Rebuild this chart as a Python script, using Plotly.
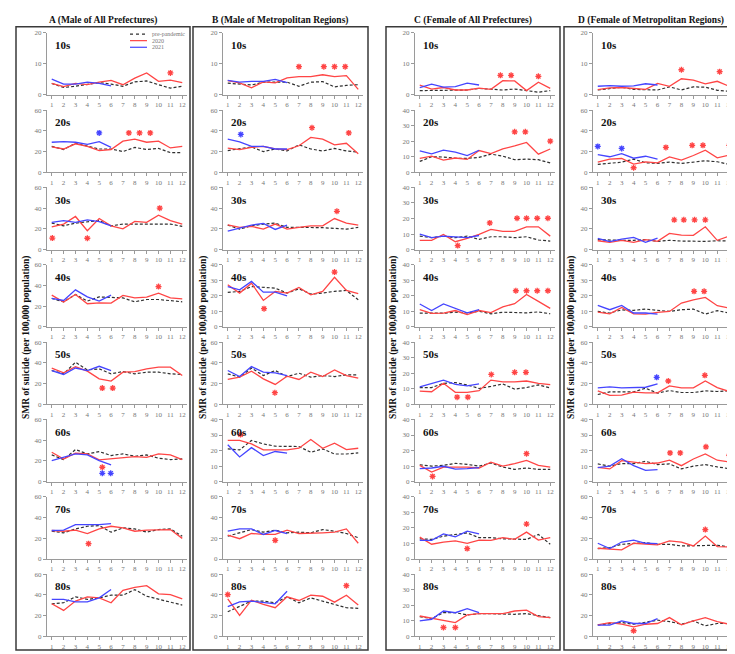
import plotly.graph_objects as go

# ---------------- data ----------------
months = list(range(1, 13))
months_2021 = list(range(1, 7))
age_groups = ["10s", "20s", "30s", "40s", "50s", "60s", "70s", "80s"]
col_titles = ["A (Male of All Prefectures)", "B (Male of Metropolitan Regions)",
              "C (Female of All Prefectures)", "D (Female of Metropolitan Regions)"]
y_title = "SMR of suicide (per 100,000 population)"
series_names = ["pre-pandemic", "2020", "2021"]

# Column A
A_pre = [
    [3.7, 2.4, 2.8, 3.5, 4.0, 3.5, 2.8, 4.2, 4.5, 3.3, 2.2, 2.8],
    [25, 22, 28, 25, 22.5, 22.5, 20, 24, 22, 23, 19, 19],
    [25.6, 23, 25.6, 27, 28, 23, 24.7, 24.7, 24.7, 24.7, 24.7, 22.4],
    [27.5, 24.3, 31.3, 25, 29, 28.8, 28, 24.3, 26.5, 26.5, 25.6, 24.3],
    [32.6, 29.4, 40.6, 33.2, 34.2, 29.4, 31.6, 29.4, 31, 31, 29.4, 28.8],
    [25.8, 21.3, 31, 26.8, 29, 25.2, 26.8, 24.5, 25.8, 22.6, 21.3, 21.9],
    [26.8, 25.3, 29, 31.6, 32.2, 25.9, 30, 29, 25.9, 28.4, 29, 22],
    [31.4, 32.4, 38.1, 35.6, 37.1, 39.7, 39.7, 45.1, 38.7, 35.6, 33, 30.2],
]
A_2020 = [
    [3.7, 2.7, 3.7, 3.3, 4.1, 4.7, 3.3, 5.4, 7.1, 4.4, 4.8, 4.0],
    [24.5, 22.5, 27.5, 25, 21, 22, 30, 32, 29, 30, 23.5, 25],
    [22, 24.7, 32, 18.3, 30, 23, 20, 27.2, 26.3, 33.3, 28, 24.7],
    [30.7, 24, 31.3, 22.4, 23.3, 23, 30.4, 28, 28.8, 32.6, 28, 27.2],
    [35, 30.4, 36.4, 32, 24.6, 22.4, 31, 31.6, 34.2, 35.8, 35.8, 27.8],
    [28.4, 21.9, 27.4, 26.8, 21, 21.9, 22.6, 24.2, 23.5, 26.8, 25.8, 21.3],
    [27.5, 26.8, 27.8, 24.6, 29, 31.6, 30, 26.8, 27.8, 28.4, 28.4, 19.9],
    [31.4, 25, 34, 38.1, 37.1, 32.4, 44.4, 47.3, 48.9, 41, 40.3, 36.2],
]
A_2021 = [
    [5.1, 3.5, 3.5, 4.1, 3.7, 2.9],
    [29, 29.5, 29, 27, 29.5, 24],
    [26.3, 27.9, 26.3, 28.8, 27, 23],
    [27.5, 25.6, 35.8, 29, 25, 30.7],
    [32.6, 28.8, 35, 32.6, 36.7, 32.6],
    [20.3, 23.5, 26.8, 25.8, 20.3, 16.1],
    [27.5, 27.8, 33.2, 33.2, 33.2, 34.1],
    [35.6, 35.6, 33.3, 33.3, 37.1, 45.1],
]
# significance asterisks: (age-group index, month, value)
A_star2020 = [(0, 11, 7.1), (1, 7.5, 38), (1, 8.4, 38), (1, 9.3, 38), (2, 1.05, 11.2), (2, 4, 11),
              (2, 10.1, 40), (3, 10, 39), (4, 5.26, 15.7), (4, 6.14, 15.7), (5, 5.26, 13.9), (6, 4.1, 14.8)]
A_star2021 = [(1, 5, 38), (5, 5.26, 8.1), (5, 5.97, 8.1)]
A_ymax = [20, 60, 60, 60, 60, 60, 60, 60]

# Column B
B_pre = [
    [3.8, 3.6, 3.2, 4.1, 4.1, 4.1, 2.8, 4.1, 4.3, 2.6, 3.1, 3.3],
    [21, 22.5, 24.5, 20, 22.5, 20.6, 26.5, 22.5, 20.6, 23, 20.6, 19.4],
    [23.7, 19.8, 23, 24.7, 25.6, 21.5, 21.5, 21.5, 21.2, 20.5, 19.8, 21.5],
    [22.2, 22.9, 26, 25.6, 25, 21.8, 24.6, 21.2, 21.8, 22.9, 23.5, 17.5],
    [29.4, 26.2, 35, 27.8, 32.6, 26.8, 30, 26.2, 27.8, 26.8, 28.4, 28.4],
    [21.1, 20.4, 26.5, 24.3, 22.8, 22.6, 22.6, 18.9, 21.1, 17.8, 17.8, 18.5],
    [22.1, 25.3, 28.4, 25.9, 27.8, 25.3, 25.9, 25.3, 28.4, 26.8, 24.6, 20.5],
    [23.8, 29.2, 34, 34, 32.4, 38.1, 32.4, 37.1, 34, 31.4, 27.6, 27],
]
B_2020 = [
    [4.6, 3.9, 2.3, 4.2, 3.9, 5.5, 5.9, 5.9, 6.5, 5.9, 6.2, 1.8],
    [23.4, 21.9, 24, 25, 22.5, 21.9, 25.6, 33.7, 32, 26.5, 28, 18],
    [24, 21.5, 22.4, 19.8, 24.7, 19.8, 21.5, 23, 23, 30, 25.6, 23.7],
    [27.1, 21.8, 28.2, 17.1, 22.9, 21.8, 25.4, 20.7, 22.9, 32, 23.5, 21.4],
    [24, 26.2, 32, 24.6, 19.2, 27.2, 24, 31, 26.8, 33.2, 27.8, 25.2],
    [26.5, 26.5, 24.3, 20.4, 20.4, 20.4, 21.5, 27.1, 21.5, 24.7, 20.6, 21.5],
    [23, 19.6, 24.6, 23.7, 23.7, 27.8, 24.6, 24.6, 25.3, 25.9, 29, 15.2],
    [36.2, 20.3, 34.9, 30.8, 27.6, 38.1, 34.6, 39.7, 38.7, 33, 39.7, 30.2],
]
B_2021 = [
    [4.7, 4.1, 4.4, 4.4, 5.0, 4.0],
    [32, 29.4, 25, 25, 22.5, 22.5],
    [17.9, 21, 23.7, 25.3, 19.5, 23.7],
    [26, 23.9, 29.3, 22.4, 22.4, 20],
    [32.6, 26.8, 36.4, 31, 30.4, 27.8],
    [23.7, 15.9, 21.9, 16.8, 19.4, 18.3],
    [26.8, 29, 29, 23.7, 27.5, 24.6],
    [28.6, 33.3, 34, 32.4, 31.4, 43.5],
]
B_star2020 = [(0, 7, 9.1), (0, 9.1, 9.1), (0, 10, 9.1), (0, 10.9, 9.1), (1, 8.1, 43), (1, 11.2, 38),
              (2, 10.2, 37), (3, 4.06, 11.8), (3, 10, 35.3), (4, 4.97, 11.2), (5, 2.08, 30.3),
              (6, 5, 18), (7, 1, 40.3), (7, 11, 48.9)]
B_star2021 = [(1, 2.1, 36.5)]
B_ymax = [20, 60, 60, 40, 60, 40, 60, 60]

# Column C
C_pre = [
    [1.4, 1.4, 1.4, 1.6, 1.6, 2.1, 1.9, 1.6, 1.9, 1.4, 0.9, 1.4],
    [7, 10, 9.8, 9, 9, 9.6, 11.7, 10.4, 8.1, 8.5, 8.1, 6],
    [8.7, 7.7, 8.7, 7.7, 8.7, 6.6, 8.3, 8.3, 7.7, 8.3, 6.2, 5.5],
    [8.9, 8.9, 8.9, 9.5, 9.1, 10.1, 8.5, 9.5, 9.1, 9.1, 9.7, 8.5],
    [10.8, 10.8, 13.5, 14, 12.5, 10.2, 11.5, 13.1, 9.8, 10.8, 12.5, 10.6],
    [10.9, 10, 10.5, 11.8, 11.1, 10, 12, 9.4, 7.9, 8.8, 7.9, 7.9],
    [13, 12.6, 14.7, 15.8, 16.8, 13.7, 13.7, 13, 13, 12.6, 15.8, 9.5],
    [12.7, 11.4, 15.2, 15.2, 13.8, 14.6, 14.6, 14.2, 14.2, 14.6, 13.5, 12.1],
]
C_2020 = [
    [3.2, 1.9, 2.4, 1.6, 1.6, 2.2, 1.8, 4.6, 4.5, 1.4, 4.1, 2.1],
    [9, 10.4, 7.9, 9.2, 8.3, 14, 12, 15, 17, 19.2, 11.7, 15],
    [6, 6, 9.8, 5.1, 7.2, 9.8, 13, 11.7, 11.7, 14.7, 14.7, 8.7],
    [11.2, 8.7, 8.9, 10.6, 8, 10.6, 9.3, 12.9, 15, 20.9, 16.5, 12],
    [8.5, 8.1, 13.5, 7.7, 7.7, 8.75, 15.6, 14.4, 14.4, 15, 13.5, 12.7],
    [10.5, 6.2, 9.4, 9.4, 9.4, 8.8, 12.6, 10, 11.6, 13.7, 10.5, 9.4],
    [14.1, 9.5, 10.9, 11.6, 10.1, 12.2, 12, 13.7, 12.6, 17.3, 12.2, 13.7],
    [13.1, 11.6, 10.4, 8.9, 13.8, 14.6, 14.6, 14.6, 16.3, 16.9, 12.7, 12.1],
]
C_2021 = [
    [2.4, 3.5, 2.5, 2.7, 3.8, 3.2],
    [13.8, 11.9, 14.2, 13, 10.8, 14.2],
    [10, 7.7, 8.7, 8.1, 7.7, 9.1],
    [14.8, 10.6, 14.8, 12, 9.1, 11.2],
    [11.2, 13.5, 15.6, 12.9, 11.9, 13.1],
    [8.4, 8.8, 9.9, 8.1, 8.4, 9],
    [12, 12, 16.2, 14.3, 17.9, 16.2],
    [9.9, 11, 16.3, 15.2, 17.8, 15.2],
]
C_star2020 = [(0, 7.8, 6.3), (0, 8.7, 6.3), (0, 11, 6), (1, 9, 26), (1, 9.9, 26), (1, 12, 20),
              (2, 4.2, 2.6), (2, 6.9, 17.2), (2, 9.2, 20.2), (2, 10, 20.2), (2, 10.9, 20.2), (2, 11.8, 20.2),
              (3, 9.1, 23.3), (3, 10, 23.3), (3, 10.9, 23.3), (3, 11.8, 23.3),
              (4, 4.15, 4.6), (4, 5.05, 4.6), (4, 7.03, 19.2), (4, 9, 20.6), (4, 9.95, 20.6),
              (5, 2.08, 3.4), (5, 10, 18), (6, 5, 6.7), (6, 10, 22.5), (7, 3, 5.7), (7, 4, 5.7)]
C_star2021 = []
C_ymax = [20, 40, 40, 40, 40, 40, 40, 40]

# Column D
D_pre = [
    [1.6, 2, 2.5, 1.8, 1.8, 1.6, 2.6, 1.6, 2.6, 2.5, 1.5, 1.2],
    [7.6, 8.6, 9.8, 12.7, 9.2, 8.6, 9.8, 8.6, 9.8, 11.1, 10.2, 7.6],
    [9.6, 9, 9, 9, 9.6, 8, 9, 8.3, 8, 8, 8.6, 8.3],
    [10, 9, 11, 10.7, 11.5, 10.9, 10, 11.1, 11.5, 8.3, 10.5, 9],
    [9.5, 12, 12, 12, 15.6, 10.8, 13.3, 11.4, 11.4, 13, 12.4, 13],
    [11.4, 10, 11.6, 11.6, 13.1, 11, 11.4, 8.2, 10, 11, 9.5, 8.4],
    [10.1, 11, 14.2, 15.2, 15.8, 14.2, 14.2, 12.6, 12.6, 13.3, 13.3, 11.7],
    [11.1, 12.4, 13.3, 11.7, 13.3, 15.6, 14.3, 11.7, 14.9, 10.2, 12.4, 12.4],
]
D_2020 = [
    [1.7, 2.3, 2.4, 2.1, 1.8, 3.7, 2.8, 5.2, 4.8, 3.6, 4.4, 2.8],
    [9.8, 12.7, 13.3, 7.9, 10, 9.2, 14.9, 11.7, 16.2, 21.3, 14, 16.5],
    [8.6, 7, 9, 7, 9.6, 8, 15.7, 14.1, 13.8, 22, 9, 13.1],
    [9.6, 8.5, 12.6, 8.5, 8.3, 9.4, 10, 15.4, 17.5, 19, 13.7, 12.2],
    [13, 8.6, 8.9, 11.7, 11.1, 11.1, 17.8, 15.9, 15.9, 22.5, 16.2, 12.4],
    [9.2, 8.2, 13.5, 12.5, 11.6, 12, 13.8, 10.3, 14.6, 17.8, 13.8, 12.7],
    [10.4, 9.5, 8.8, 15.2, 14.2, 13.6, 17.4, 16.4, 12.6, 22.1, 12, 11.7],
    [11.1, 13.3, 11.7, 9.2, 11.7, 12.4, 18.1, 11.1, 14.9, 18.1, 14.3, 11.7],
]
D_2021 = [
    [2.8, 3.0, 2.8, 2.9, 3.6, 3.2],
    [17, 15, 18, 13.6, 15.5, 12.7],
    [10.9, 7.7, 10.2, 11.8, 7, 11.2],
    [13.9, 11.1, 13.9, 9, 9, 8.3],
    [15.9, 16.8, 15.9, 15.9, 16.5, 19.7],
    [9, 10, 14.8, 10.3, 7.3, 7.7],
    [15.2, 10.1, 16.4, 18.3, 15.2, 14.8],
    [10.8, 10.8, 14.9, 12.4, 12.4, 17.1],
]
D_star2020 = [(0, 8, 8.1), (0, 11.2, 7.5), (1, 4, 4.4), (1, 6.7, 24), (1, 8.9, 26), (1, 9.8, 26), (1, 12, 26),
              (2, 7.4, 28.8), (2, 8.2, 28.8), (2, 9.1, 28.8), (2, 10, 28.8), (3, 9.06, 22.9), (3, 9.9, 22.9),
              (4, 6.9, 22.5), (4, 9.96, 28), (5, 7.05, 18.5), (5, 7.9, 18.5), (5, 10.05, 22.4), (5, 12, 17),
              (6, 10, 28.4), (7, 4, 5.4)]
D_star2021 = [(1, 1, 25), (1, 3, 23), (4, 5.93, 26)]
D_ymax = [20, 60, 60, 40, 60, 40, 60, 60]

# ---------------- styling / layout ----------------
W, H = 735, 654
FONT = "Liberation Serif"
COL_PRE, COL_2020, COL_2021 = "#303030", "#ff4545", "#4545ff"
AXC = "#9a9a9a"

columns = [
    (A_pre, A_2020, A_2021, A_star2020, A_star2021, A_ymax),
    (B_pre, B_2020, B_2021, B_star2020, B_star2021, B_ymax),
    (C_pre, C_2020, C_2021, C_star2020, C_star2021, C_ymax),
    (D_pre, D_2020, D_2021, D_star2020, D_star2021, D_ymax),
]
col_px = [(39, 179), (215, 355), (407, 547), (585, 726)]
box_px = [(8, 182), (185, 360), (378, 552), (556, 730)]
ytitle_px = [19, 196, 386, 564]
row_top0, row_step, row_h = 21, 78.3, 63

fig = go.Figure()
layout_upd = {}
annotations = []
shapes = []

for c, (pre, y20, y21, s20, s21, ymax) in enumerate(columns):
    x0, x1 = col_px[c]
    for r in range(8):
        i = c * 8 + r + 1
        xn = "x" if i == 1 else f"x{i}"
        yn = "y" if i == 1 else f"y{i}"
        xk = "xaxis" if i == 1 else f"xaxis{i}"
        yk = "yaxis" if i == 1 else f"yaxis{i}"
        top = row_top0 + row_step * r
        layout_upd[xk] = dict(
            domain=[x0 / W, x1 / W], anchor=yn, range=[0.6, 12.4], tickvals=months,
            showgrid=False, zeroline=False, showline=True, linecolor=AXC, linewidth=1,
            ticks="outside", ticklen=3, tickcolor=AXC,
            tickfont=dict(family=FONT, size=7, color="#777"), fixedrange=True)
        layout_upd[yk] = dict(
            domain=[1 - (top + row_h) / H, 1 - top / H], anchor=xn, range=[0, ymax[r]],
            dtick=10 if ymax[r] <= 40 else 20,
            showgrid=False, zeroline=False, showline=True, linecolor=AXC, linewidth=1,
            ticks="outside", ticklen=3, tickcolor=AXC,
            tickfont=dict(family=FONT, size=7, color="#777"), fixedrange=True)

        fig.add_trace(go.Scatter(x=months, y=pre[r], xaxis=xn, yaxis=yn, mode="lines",
                                 line=dict(color=COL_PRE, width=1.2, dash="3px,2px"),
                                 name=series_names[0], showlegend=False))
        fig.add_trace(go.Scatter(x=months, y=y20[r], xaxis=xn, yaxis=yn, mode="lines",
                                 line=dict(color=COL_2020, width=1.3),
                                 name=series_names[1], showlegend=False))
        fig.add_trace(go.Scatter(x=months_2021, y=y21[r], xaxis=xn, yaxis=yn, mode="lines",
                                 line=dict(color=COL_2021, width=1.3),
                                 name=series_names[2], showlegend=False))
        st20 = [s for s in s20 if s[0] == r]
        st21 = [s for s in s21 if s[0] == r]
        for st, colr in ((st20, COL_2020), (st21, COL_2021)):
            if st:
                fig.add_trace(go.Scatter(
                    x=[s[1] for s in st], y=[s[2] for s in st], xaxis=xn, yaxis=yn, mode="markers",
                    marker=dict(symbol="asterisk-open", size=5, color=colr,
                                line=dict(color=colr, width=1.3)),
                    cliponaxis=False, showlegend=False, hoverinfo="skip"))
        annotations.append(dict(text=f"<b>{age_groups[r]}</b>", xref=f"{xn} domain", yref=f"{yn} domain",
                                x=0.045, y=0.93, xanchor="left", yanchor="top", showarrow=False,
                                font=dict(family=FONT, size=11, color="#111")))
    bx0, bx1 = box_px[c]
    shapes.append(dict(type="rect", xref="paper", yref="paper", x0=bx0 / W, x1=bx1 / W,
                       y0=1 - 646 / H, y1=1 - 15 / H, line=dict(color="#3a3a3a", width=1.5)))
    annotations.append(dict(text=f"<b>{col_titles[c]}</b>", xref="paper", yref="paper",
                            x=(bx0 + bx1) / 2 / W, y=1 - 9 / H, showarrow=False,
                            xanchor="center", yanchor="middle",
                            font=dict(family=FONT, size=9.5, color="#111")))
    annotations.append(dict(text=f"<b>{y_title}</b>", xref="paper", yref="paper",
                            x=ytitle_px[c] / W, y=1 - 330 / H, textangle=-90, showarrow=False,
                            xanchor="center", yanchor="middle",
                            font=dict(family=FONT, size=9.5, color="#111")))

# legend (inside the first panel)
leg_items = [(series_names[0], COL_PRE, "dot", 22.3), (series_names[1], COL_2020, "solid", 29.0),
             (series_names[2], COL_2021, "solid", 35.7)]
for name, colr, dash, yy in leg_items:
    shapes.append(dict(type="line", xref="paper", yref="paper", x0=122 / W, x1=139 / W,
                       y0=1 - yy / H, y1=1 - yy / H,
                       line=dict(color=colr, width=1.2, dash=dash)))
    annotations.append(dict(text=name, xref="paper", yref="paper", x=142 / W, y=1 - yy / H,
                            xanchor="left", yanchor="middle", showarrow=False,
                            font=dict(family=FONT, size=6, color="#777")))

fig.update_layout(**layout_upd)
fig.update_layout(width=W, height=H, margin=dict(l=0, r=0, t=0, b=0),
                  paper_bgcolor="white", plot_bgcolor="white", showlegend=False,
                  annotations=annotations, shapes=shapes)

fig.write_html("out.html")
